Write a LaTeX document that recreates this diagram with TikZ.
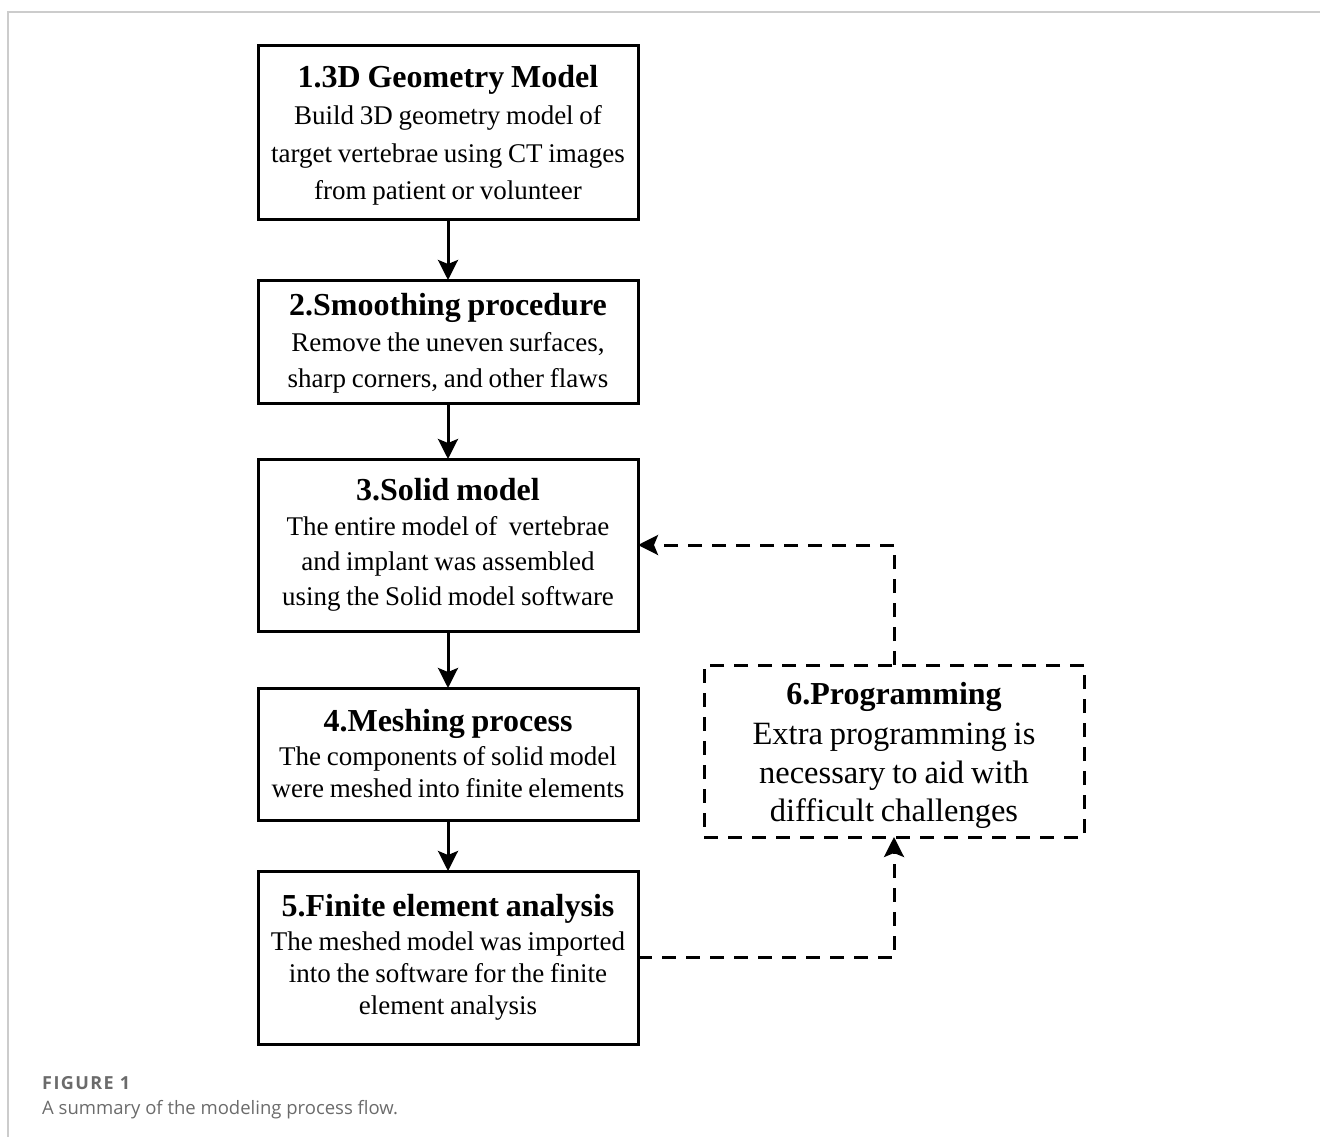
\documentclass[tikz,border=0pt]{standalone}
\usepackage{fontspec}
\setmainfont{Liberation Serif}[WordSpace=0.85]
\newfontfamily\capfont{Open Sans}
\usetikzlibrary{positioning,arrows.meta}

\newcommand{\steptitle}[1]{{\fontsize{32}{36}\selectfont\bfseries #1}}

\begin{document}
\begin{tikzpicture}[x=1pt,y=-1pt,
	stepbox/.style={draw=black,line width=3pt,outer sep=0pt,text width=370pt,align=flush center,minimum width=380pt,inner sep=0pt,font=\fontsize{27}{#1}\selectfont},
	stepbox/.default=37.5,
	progbox/.style={stepbox,dash pattern=on 14pt off 10pt,font=\fontsize{32.5}{38.5}\selectfont},
	flow/.style={line width=3pt,-{Stealth[length=20pt,width=20pt,inset=4pt]}},
	backflow/.style={flow,dash pattern=on 14pt off 10pt}]
		\useasboundingbox (0,0) rectangle (1320,1137);
		\draw[black!20,line width=1.5pt] (8,1137) -- (8,12) -- (1320,12);
		\node[stepbox,minimum height=173pt] (geom) at (448,132.5) {\rule{0pt}{28pt}\steptitle{1.3D Geometry Model}\\Build 3D geometry model of\\target vertebrae using CT images\\from patient or volunteer};
		\node[stepbox=36,minimum height=123pt] (smooth) [below=61pt of geom] {\rule{0pt}{26pt}\steptitle{2.Smoothing procedure}\\Remove the uneven surfaces,\\sharp corners, and other flaws};
		\node[stepbox=35,minimum height=172pt] (solid) [below=56pt of smooth] {\steptitle{3.Solid model}\\The entire model of\ \ vertebrae\\and implant was assembled\\using the Solid model software};
		\node[stepbox=32,minimum height=132pt] (mesh) [below=57pt of solid] {\steptitle{4.Meshing process}\\[2pt]The components of solid model\\were meshed into finite elements};
		\node[stepbox=32,minimum height=173pt] (fea) [below=51pt of mesh] {\steptitle{5.Finite element analysis}\\[2pt]The meshed model was imported\\into the software for the finite\\element analysis};
		\node[progbox,minimum height=172pt] (prog) at (894,751) {\rule{0pt}{31pt}\steptitle{6.Programming}\\[2pt]Extra programming is\\necessary to aid with\\difficult challenges};
		\draw[flow] (geom.south) -- (smooth.north);
		\draw[flow] (smooth.south) -- (solid.north);
		\draw[flow] (solid.south) -- (mesh.north);
		\draw[flow] (mesh.south) -- (fea.north);
		%feedback loop
		\draw[backflow] (prog.north) |- (solid.east);
		\draw[backflow] (fea.east) -| (prog.south);
		\node[anchor=base west,inner sep=0pt,text=black!58,font=\capfont\bfseries\fontsize{18}{20}\selectfont\addfontfeature{LetterSpace=8}] (figlabel) at (42,1089) {FIGURE 1};
		\node[anchor=base west,inner sep=0pt,text=black!58,font=\capfont\fontsize{18.5}{20}\selectfont] (figcaption) at (42,1114) {A summary of the modeling process flow.};
	\end{tikzpicture}
\end{document}
